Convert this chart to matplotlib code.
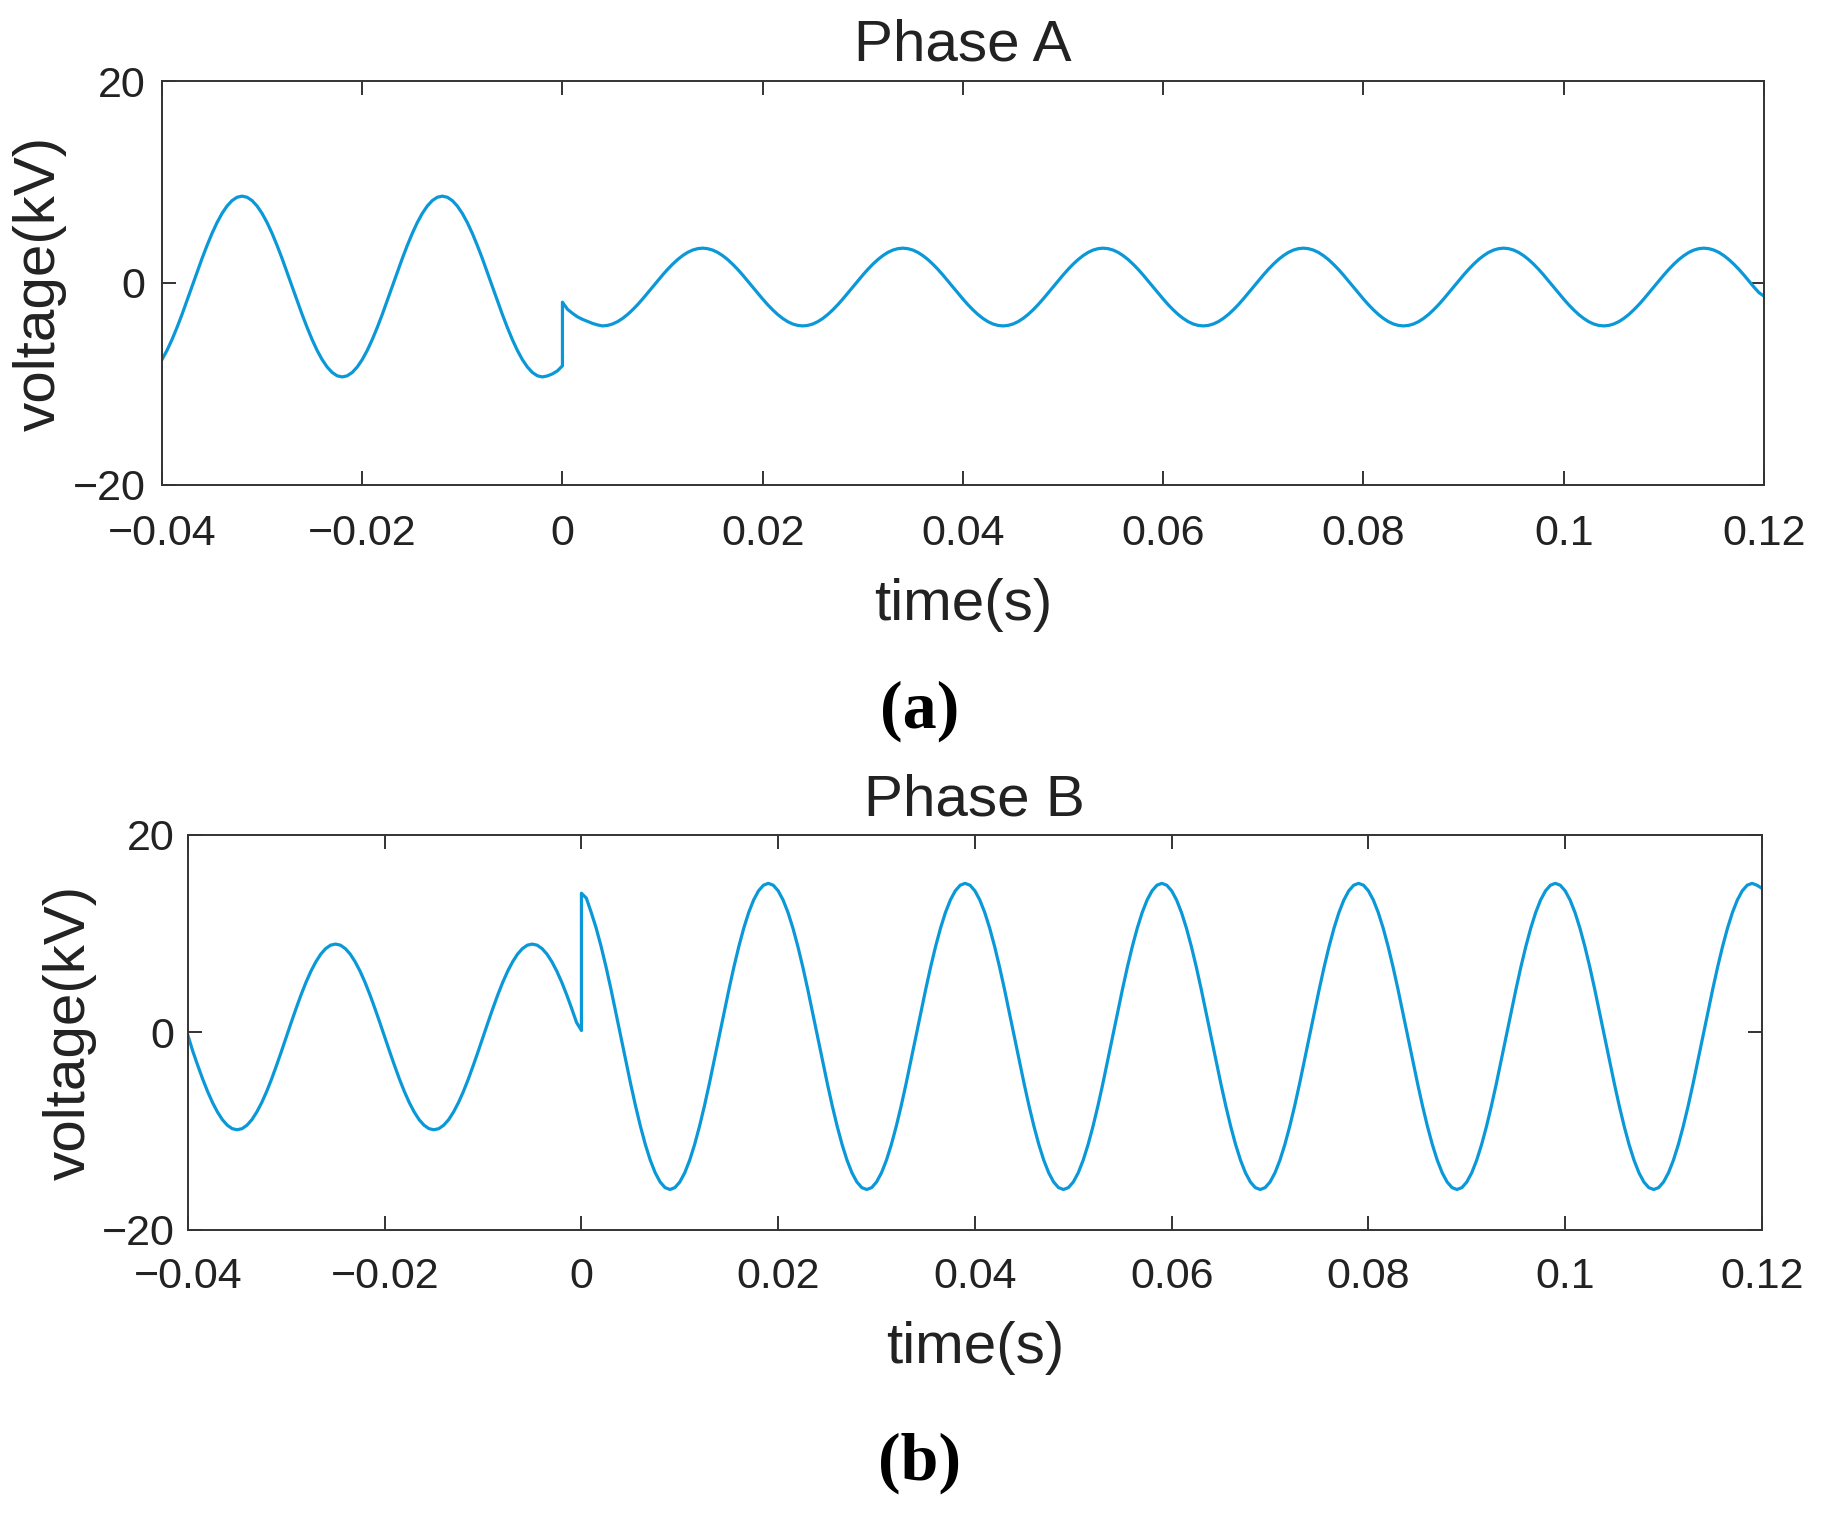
import numpy as np
import matplotlib
matplotlib.use('Agg')
import matplotlib.pyplot as plt

plt.rcParams['font.family'] = ['Liberation Sans', 'DejaVu Sans']

# sample grid in half-ms steps, t=0 appears twice (before / after the jump)
t_pre_half_ms = np.arange(-80, 1)
t_post_half_ms = np.arange(0, 241)

# Phase A voltage (kV)
phase_a_pre = [
    -7.59, -6.68, -5.61, -4.41, -3.12, -1.75, -0.35, 1.05, 2.42, 3.71,
    4.91, 5.98, 6.89, 7.62, 8.16, 8.49,
    8.60, 8.49, 8.16, 7.62, 6.89, 5.98, 4.91, 3.71, 2.42, 1.05,
    -0.35, -1.75, -3.12, -4.41, -5.61, -6.68, -7.59, -8.32, -8.86, -9.19,
    -9.30, -9.19, -8.86, -8.32, -7.59, -6.68, -5.61, -4.41, -3.12, -1.75,
    -0.35, 1.05, 2.42, 3.71, 4.91, 5.98, 6.89, 7.62, 8.16, 8.49,
    8.60, 8.49, 8.16, 7.62, 6.89, 5.98, 4.91, 3.71, 2.42, 1.05,
    -0.35, -1.75, -3.12, -4.41, -5.61, -6.68, -7.59, -8.32, -8.86, -9.19,
    -9.30, -9.20, -9.00, -8.70, -8.20,
]
phase_a_post = [
    -1.90, -2.60, -3.00, -3.35, -3.60, -3.80, -4.00, -4.15,
    -4.25, -4.20, -4.06, -3.83, -3.51, -3.12, -2.66, -2.15, -1.59, -1.00,
    -0.40, 0.20, 0.79, 1.35, 1.86, 2.32, 2.71, 3.03, 3.26, 3.40,
    3.45, 3.40, 3.26, 3.03, 2.71, 2.32, 1.86, 1.35, 0.79, 0.20,
    -0.40, -1.00, -1.59, -2.15, -2.66, -3.12, -3.51, -3.83, -4.06, -4.20,
    -4.25, -4.20, -4.06, -3.83, -3.51, -3.12, -2.66, -2.15, -1.59, -1.00,
    -0.40, 0.20, 0.79, 1.35, 1.86, 2.32, 2.71, 3.03, 3.26, 3.40,
    3.45, 3.40, 3.26, 3.03, 2.71, 2.32, 1.86, 1.35, 0.79, 0.20,
    -0.40, -1.00, -1.59, -2.15, -2.66, -3.12, -3.51, -3.83, -4.06, -4.20,
    -4.25, -4.20, -4.06, -3.83, -3.51, -3.12, -2.66, -2.15, -1.59, -1.00,
    -0.40, 0.20, 0.79, 1.35, 1.86, 2.32, 2.71, 3.03, 3.26, 3.40,
    3.45, 3.40, 3.26, 3.03, 2.71, 2.32, 1.86, 1.35, 0.79, 0.20,
    -0.40, -1.00, -1.59, -2.15, -2.66, -3.12, -3.51, -3.83, -4.06, -4.20,
    -4.25, -4.20, -4.06, -3.83, -3.51, -3.12, -2.66, -2.15, -1.59, -1.00,
    -0.40, 0.20, 0.79, 1.35, 1.86, 2.32, 2.71, 3.03, 3.26, 3.40,
    3.45, 3.40, 3.26, 3.03, 2.71, 2.32, 1.86, 1.35, 0.79, 0.20,
    -0.40, -1.00, -1.59, -2.15, -2.66, -3.12, -3.51, -3.83, -4.06, -4.20,
    -4.25, -4.20, -4.06, -3.83, -3.51, -3.12, -2.66, -2.15, -1.59, -1.00,
    -0.40, 0.20, 0.79, 1.35, 1.86, 2.32, 2.71, 3.03, 3.26, 3.40,
    3.45, 3.40, 3.26, 3.03, 2.71, 2.32, 1.86, 1.35, 0.79, 0.20,
    -0.40, -1.00, -1.59, -2.15, -2.66, -3.12, -3.51, -3.83, -4.06, -4.20,
    -4.25, -4.20, -4.06, -3.83, -3.51, -3.12, -2.66, -2.15, -1.59, -1.00,
    -0.40, 0.20, 0.79, 1.35, 1.86, 2.32, 2.71, 3.03, 3.26, 3.40,
    3.45, 3.40, 3.26, 3.03, 2.71, 2.32, 1.86, 1.35, 0.79, 0.20,
    -0.40, -0.95, -1.30,
]

# Phase B voltage (kV)
phase_b_pre = [
    -0.30, -1.92, -3.35, -4.72, -5.98, -7.10, -8.05, -8.83, -9.39, -9.74,
    -9.85,
    -9.74, -9.39, -8.83, -8.05, -7.10, -5.98, -4.72, -3.35, -1.92, -0.45,
    1.02, 2.45, 3.82, 5.08, 6.20, 7.15, 7.93, 8.49, 8.84, 8.95,
    8.84, 8.49, 7.93, 7.15, 6.20, 5.08, 3.82, 2.45, 1.02, -0.45,
    -1.92, -3.35, -4.72, -5.98, -7.10, -8.05, -8.83, -9.39, -9.74, -9.85,
    -9.74, -9.39, -8.83, -8.05, -7.10, -5.98, -4.72, -3.35, -1.92, -0.45,
    1.02, 2.45, 3.82, 5.08, 6.20, 7.15, 7.93, 8.49, 8.84, 8.95,
    8.84, 8.49, 7.93, 7.15, 6.20, 5.08, 3.82, 2.45, 1.02, 0.20,
]
phase_b_post = [
    14.10, 13.60, 12.14, 10.56, 8.71, 6.64, 4.39, 2.02, -0.40, -2.82,
    -5.19, -7.44, -9.51, -11.36, -12.94, -14.21, -15.14, -15.71, -15.90,
    -15.71, -15.14, -14.21, -12.94, -11.36, -9.51, -7.44, -5.19, -2.82, -0.40,
    2.02, 4.39, 6.64, 8.71, 10.56, 12.14, 13.41, 14.34, 14.91, 15.10,
    14.91, 14.34, 13.41, 12.14, 10.56, 8.71, 6.64, 4.39, 2.02, -0.40,
    -2.82, -5.19, -7.44, -9.51, -11.36, -12.94, -14.21, -15.14, -15.71, -15.90,
    -15.71, -15.14, -14.21, -12.94, -11.36, -9.51, -7.44, -5.19, -2.82, -0.40,
    2.02, 4.39, 6.64, 8.71, 10.56, 12.14, 13.41, 14.34, 14.91, 15.10,
    14.91, 14.34, 13.41, 12.14, 10.56, 8.71, 6.64, 4.39, 2.02, -0.40,
    -2.82, -5.19, -7.44, -9.51, -11.36, -12.94, -14.21, -15.14, -15.71, -15.90,
    -15.71, -15.14, -14.21, -12.94, -11.36, -9.51, -7.44, -5.19, -2.82, -0.40,
    2.02, 4.39, 6.64, 8.71, 10.56, 12.14, 13.41, 14.34, 14.91, 15.10,
    14.91, 14.34, 13.41, 12.14, 10.56, 8.71, 6.64, 4.39, 2.02, -0.40,
    -2.82, -5.19, -7.44, -9.51, -11.36, -12.94, -14.21, -15.14, -15.71, -15.90,
    -15.71, -15.14, -14.21, -12.94, -11.36, -9.51, -7.44, -5.19, -2.82, -0.40,
    2.02, 4.39, 6.64, 8.71, 10.56, 12.14, 13.41, 14.34, 14.91, 15.10,
    14.91, 14.34, 13.41, 12.14, 10.56, 8.71, 6.64, 4.39, 2.02, -0.40,
    -2.82, -5.19, -7.44, -9.51, -11.36, -12.94, -14.21, -15.14, -15.71, -15.90,
    -15.71, -15.14, -14.21, -12.94, -11.36, -9.51, -7.44, -5.19, -2.82, -0.40,
    2.02, 4.39, 6.64, 8.71, 10.56, 12.14, 13.41, 14.34, 14.91, 15.10,
    14.91, 14.34, 13.41, 12.14, 10.56, 8.71, 6.64, 4.39, 2.02, -0.40,
    -2.82, -5.19, -7.44, -9.51, -11.36, -12.94, -14.21, -15.14, -15.71, -15.90,
    -15.71, -15.14, -14.21, -12.94, -11.36, -9.51, -7.44, -5.19, -2.82, -0.40,
    2.02, 4.39, 6.64, 8.71, 10.56, 12.14, 13.41, 14.34, 14.91, 15.10,
    14.91, 14.60,
]

x_ticks = [-0.04, -0.02, 0, 0.02, 0.04, 0.06, 0.08, 0.1, 0.12]
x_tick_labels = ['\u22120.04', '\u22120.02', '0', '0.02', '0.04', '0.06', '0.08', '0.1', '0.12']
y_ticks = [-20, 0, 20]
y_tick_labels = ['\u221220', '0', '20']

line_color = '#0B98D8'
axis_color = '#333333'
text_color = '#222222'


def draw_phase(ax, pre, post, title, title_pad, xpad, ypad, xlabel_y, ylabel_x):
    t = np.concatenate([t_pre_half_ms, t_post_half_ms]) / 2000.0
    v = np.concatenate([pre, post])
    ax.plot(t, v, color=line_color, linewidth=2.3)

    ax.set_xlim(-0.04, 0.12)
    ax.set_ylim(-20, 20)
    ax.set_xticks(x_ticks)
    ax.set_xticklabels(x_tick_labels)
    ax.set_yticks(y_ticks)
    ax.set_yticklabels(y_tick_labels)

    for sp in ax.spines.values():
        sp.set_color(axis_color)
        sp.set_linewidth(1.4)
    ax.tick_params(direction='in', length=10, width=1.4, color=axis_color,
                   labelsize=31, labelcolor=text_color, top=True, right=True)
    ax.tick_params(axis='x', pad=xpad)
    ax.tick_params(axis='y', pad=ypad)

    ax.set_title(title, fontsize=42, color=text_color, pad=title_pad)
    ax.set_xlabel('time(s)', fontsize=42, color=text_color)
    ax.xaxis.set_label_coords(0.5, xlabel_y)
    ax.xaxis.label.set_va('center')
    ax.set_ylabel('voltage(kV)', fontsize=42, color=text_color)
    ax.yaxis.set_label_coords(ylabel_x, 0.5)
    ax.yaxis.label.set_va('center')


fig = plt.figure(figsize=(18.3, 15.17), dpi=100)

ax_a = fig.add_axes([0.0885, 0.6803, 0.8754, 0.2663])
draw_phase(ax_a, phase_a_pre, phase_a_post, 'Phase A', 15, 21, 12, -0.297, -0.076)

ax_b = fig.add_axes([0.1027, 0.1892, 0.8601, 0.2604])
draw_phase(ax_b, phase_b_pre, phase_b_post, 'Phase B', 14, 19.5, 9.5, -0.299, -0.075)

fig.text(0.5027, 0.5313, '(a)', ha='center', va='center', fontsize=49,
         fontweight='bold', family=['Liberation Serif', 'DejaVu Serif'])
fig.text(0.5027, 0.0356, '(b)', ha='center', va='center', fontsize=49,
         fontweight='bold', family=['Liberation Serif', 'DejaVu Serif'])

fig.savefig('out.png', dpi=100)
